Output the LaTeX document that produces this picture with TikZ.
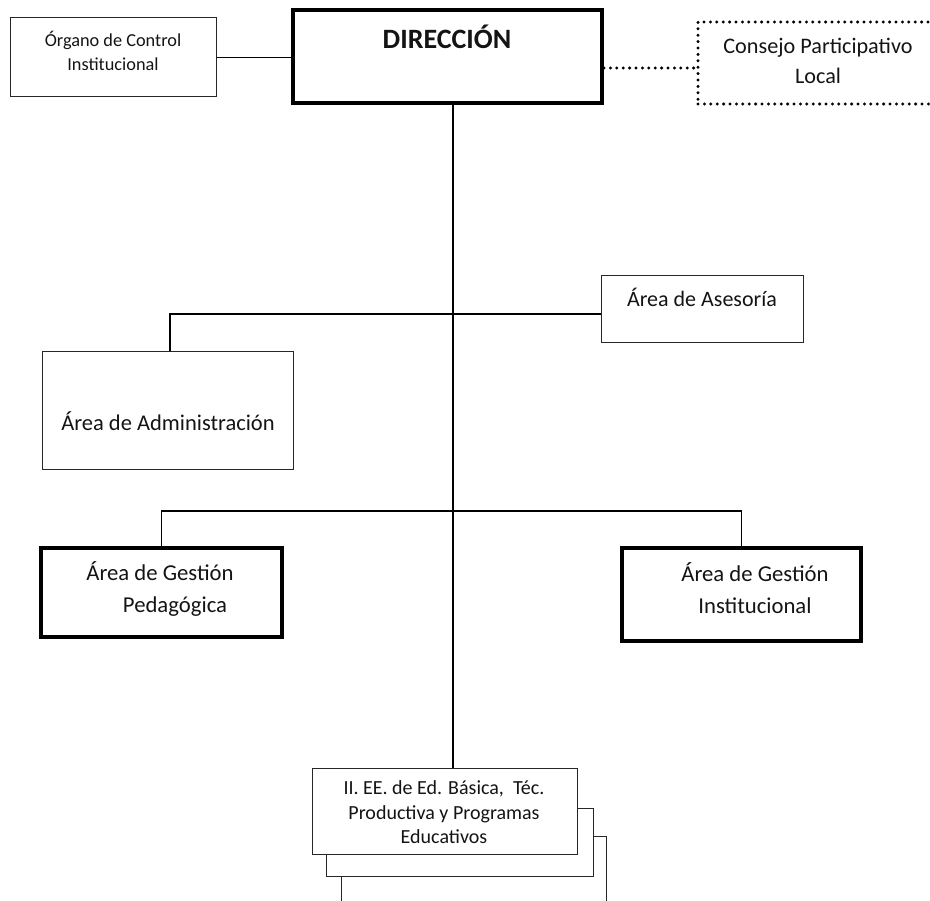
\documentclass[tikz,border=0pt]{standalone}
\usepackage{fontspec}
\setmainfont{Carlito}
\begin{document}
\begin{tikzpicture}[x=1pt,y=-1pt,
  thinbox/.style={draw=black!85, line width=1pt, inner sep=0pt},
  thickbox/.style={draw=black, line width=3.5pt, inner sep=0pt},
  txt/.style={inner sep=0pt, text=black!92, align=center},
  dotline/.style={draw=black, line width=3.3pt, dash pattern=on 0pt off 6.4pt, line cap=round},
  conn/.style={draw=black, line width=1.2pt}]
\useasboundingbox (0,0) rectangle (930,901);
\begin{scope}
\clip (0,0) rectangle (930,901);
% boxes
\node[thinbox, minimum width=206pt, minimum height=79pt] (oci) at (113,57.5) {};
\node[thickbox, line width=4pt, minimum width=309pt, minimum height=93pt] (dir) at (447.5,56.5) {};
\node[dotline, inner sep=0pt, minimum width=250pt, minimum height=82pt] (cpl) at (823,63) {};
\node[thinbox, minimum width=202pt, minimum height=67pt] (ase) at (702,309.5) {};
\node[thinbox, minimum width=251pt, minimum height=118pt] (adm) at (167.5,411) {};
\node[thickbox, minimum width=241pt, minimum height=89pt] (gped) at (161.5,592.5) {};
\node[thickbox, minimum width=239pt, minimum height=93pt] (ginst) at (741.5,594.5) {};
% stacked boxes
\node[thinbox, fill=white, minimum width=265pt, minimum height=80pt] (ie3) at (473.5,876) {};
\node[thinbox, fill=white, minimum width=267pt, minimum height=68pt] (ie2) at (459.5,842) {};
\node[thinbox, fill=white, minimum width=265pt, minimum height=86pt] (ie1) at (444.5,811) {};
\end{scope}
% texts
\node[txt, font=\fontsize{18.3}{24}\selectfont] (ocit) at (113,51) {Órgano de Control\\Institucional};
\node[txt, font=\fontsize{28}{30}\selectfont\bfseries] (dirt) at (447,37) {DIRECCIÓN};
\node[txt, font=\fontsize{22.2}{30}\selectfont] (cplt) at (818,60.5) {Consejo Participativo\\Local};
\node[txt, font=\fontsize{22}{24}\selectfont] (aset) at (702,297) {Área de Asesoría};
\node[txt, font=\fontsize{22.5}{24}\selectfont] (admt) at (168,421) {Área de Administración};
\node[txt, font=\fontsize{22.7}{24}\selectfont] (gpedt1) at (160,571.5) {Área de Gestión};
\node[txt, font=\fontsize{22.7}{24}\selectfont] (gpedt2) at (175,606.5) {Pedagógica};
\node[txt, font=\fontsize{22.7}{32}\selectfont] (ginstt) at (755,588) {Área de Gestión\\Institucional};
\node[txt, font=\fontsize{20}{24.5}\selectfont] (ie1t) at (444,812.5) {II. EE. de Ed. Básica,\ \ Téc.\\Productiva y Programas\\Educativos};
% connectors
\draw[conn] (oci.east) -- (dir.west |- oci.east);
\coordinate (cy) at (0,68);
\draw[dotline] (dir.east |- cy) -- (cpl.west |- cy);
\coordinate (mx) at (453,0);
\draw[conn] (dir.south -| mx) -- (ie1.north -| mx);
\coordinate (ad) at (170,314);
\draw[conn] (ase.west |- ad) -- (ad) -- (ad |- adm.north);
\coordinate (gl) at (161.5,511);
\coordinate (gr) at (741.5,511);
\draw[conn] (gped.north) -- (gl) -- (gr) -- (ginst.north);
\end{tikzpicture}
\end{document}
